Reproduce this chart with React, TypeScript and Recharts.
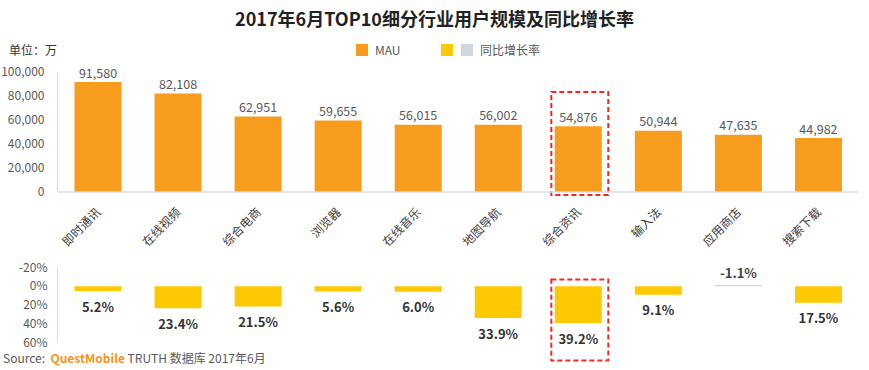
import React from 'react';
import { BarChart, Bar, XAxis, YAxis, LabelList, Cell, ReferenceArea } from 'recharts';

const categories = ['即时通讯', '在线视频', '综合电商', '浏览器', '在线音乐', '地图导航', '综合资讯', '输入法', '应用商店', '搜索下载'];
const mauValues = [91580, 82108, 62951, 59655, 56015, 56002, 54876, 50944, 47635, 44982];
const growthValues = [5.2, 23.4, 21.5, 5.6, 6.0, 33.9, 39.2, 9.1, -1.1, 17.5];
const mauTicks = [0, 20000, 40000, 60000, 80000, 100000];
const growthTicks = [-20, 0, 20, 40, 60];
const highlighted = '综合资讯';

const mauMinorTicks = Array.from({ length: 51 }, (_, i) => i * 2000);
const growthMinorTicks = Array.from({ length: 33 }, (_, i) => -20 + i * 2.5);

const data = categories.map((name, i) => ({ name, mau: mauValues[i], growth: growthValues[i] }));

const FONT = '"Noto Sans CJK SC", "Noto Sans", sans-serif';
const ORANGE = '#F89C1E';
const YELLOW = '#FFC900';
const GRAY = '#D0D5DE';

const XTick = (props: any) => {
  const { x, y, payload } = props;
  return (
    <g transform={`translate(${x + 4},${y + 19})`}>
      <text x={0} y={0} textAnchor="end" transform="rotate(-45)" fontSize={12} fill="#404040" fontFamily={FONT}>
        {payload.value}
      </text>
    </g>
  );
};

const getBox = (props: any) => {
  const vb = props.viewBox && props.viewBox.width !== undefined ? props.viewBox : props;
  const x = Number(vb.x), y = Number(vb.y), w = Number(vb.width), h = Number(vb.height);
  return { x, w, top: Math.min(y, y + h), bottom: Math.max(y, y + h) };
};

const MauLabel = (props: any) => {
  const { x, w, top } = getBox(props);
  return (
    <text x={x + w / 2} y={top - 10} textAnchor="middle" dominantBaseline="central" fontSize={12.5} fill="#595959" fontFamily={FONT}>
      {Number(props.value).toLocaleString('en-US')}
    </text>
  );
};

const GrowthLabel = (props: any) => {
  const { x, w, top, bottom } = getBox(props);
  const v = Number(props.value);
  const ty = v >= 0 ? bottom + 15 : top - 13;
  return (
    <text x={x + w / 2} y={ty} textAnchor="middle" dominantBaseline="central" fontSize={13} fontWeight="bold" fill={v >= 0 ? '#333' : '#444'} fontFamily={FONT}>
      {v.toFixed(1)}%
    </text>
  );
};

const DashBox = (props: any) => {
  const x = Math.min(props.x, props.x + props.width);
  const y = Math.min(props.y, props.y + props.height);
  const h = Math.abs(props.height);
  return <rect x={x + 13.5} y={y} width={57} height={h} fill="none" stroke="#F22" strokeWidth={2} strokeDasharray="5 3" />;
};

export default function App() {
  return (
    <div style={{ position: 'absolute', left: 0, top: 0, width: 869, height: 370, background: '#fff', fontFamily: FONT, overflow: 'hidden' }}>
      <div style={{ position: 'absolute', left: 0, top: 0 }}>
        <BarChart width={869} height={250} data={data} margin={{ top: 72, right: 11, left: 0, bottom: 0 }}>
          <YAxis yAxisId="minor" orientation="left" mirror width={0} type="number" domain={[0, 100000]} ticks={mauMinorTicks} interval={0} tick={false} tickSize={4} axisLine={{ stroke: '#DCDCDC' }} tickLine={{ stroke: '#E3E3E3' }} allowDataOverflow />
          <YAxis type="number" domain={[0, 100000]} ticks={mauTicks} interval={0} width={57.5} axisLine={{ stroke: '#DCDCDC' }} tickLine={false} tickSize={0} tickMargin={13} tickFormatter={(v: number) => v.toLocaleString('en-US')} tick={{ fontSize: 12, fill: '#595959', fontFamily: FONT }} />
          <XAxis dataKey="name" interval={0} height={58} tickLine={false} tickSize={0} axisLine={{ stroke: '#D8E0EC', strokeWidth: 1.5 }} tick={<XTick />} />
          <Bar dataKey="mau" fill={ORANGE} barSize={47} isAnimationActive={false}>
            <LabelList dataKey="mau" content={<MauLabel />} />
          </Bar>
          <ReferenceArea x1={highlighted} x2={highlighted} y1={-2500} y2={83400} ifOverflow="visible" shape={<DashBox />} />
        </BarChart>
      </div>
      <div style={{ position: 'absolute', left: 0, top: 250 }}>
        <BarChart width={869} height={120} data={data} margin={{ top: 17.3, right: 11, left: 0, bottom: 27.3 }}>
          <YAxis yAxisId="minor" orientation="left" mirror width={0} type="number" reversed domain={[-20, 60]} ticks={growthMinorTicks} interval={0} tick={false} tickSize={4} axisLine={{ stroke: '#DCDCDC' }} tickLine={{ stroke: '#E3E3E3' }} allowDataOverflow />
          <YAxis type="number" reversed domain={[-20, 60]} ticks={growthTicks} interval={0} width={57.5} axisLine={{ stroke: '#DCDCDC' }} tickLine={false} tickSize={0} tickMargin={10} tickFormatter={(v: number) => `${v}%`} tick={{ fontSize: 12, fill: '#595959', fontFamily: FONT }} />
          <XAxis dataKey="name" hide />
          <Bar dataKey="growth" barSize={47} isAnimationActive={false}>
            {data.map((d, i) => (
              <Cell key={i} fill={d.growth >= 0 ? YELLOW : GRAY} />
            ))}
            <LabelList dataKey="growth" content={<GrowthLabel />} />
          </Bar>
          <ReferenceArea x1={highlighted} x2={highlighted} y1={-7} y2={79} ifOverflow="visible" shape={<DashBox />} />
        </BarChart>
      </div>

      <div style={{ position: 'absolute', left: 0, top: 0, width: 869, height: 36, lineHeight: '36px', textAlign: 'center', fontSize: 18, fontWeight: 'bold', color: '#222' }}>
        2017年6月TOP10细分行业用户规模及同比增长率
      </div>
      <div style={{ position: 'absolute', left: 9, top: 42, lineHeight: '16px', fontSize: 12, color: '#333' }}>单位：万</div>
      <div style={{ position: 'absolute', left: 356, top: 44, width: 12, height: 12, background: ORANGE }} />
      <div style={{ position: 'absolute', left: 375, top: 42, lineHeight: '16px', fontSize: 12, color: '#595959' }}>MAU</div>
      <div style={{ position: 'absolute', left: 441, top: 44, width: 12, height: 12, background: YELLOW }} />
      <div style={{ position: 'absolute', left: 461, top: 44, width: 12, height: 12, background: GRAY }} />
      <div style={{ position: 'absolute', left: 480, top: 42, lineHeight: '16px', fontSize: 12, color: '#595959' }}>同比增长率</div>
      <div style={{ position: 'absolute', left: 3, top: 352, lineHeight: '12px', fontSize: 12, color: '#595959', whiteSpace: 'nowrap' }}>
        Source:&nbsp;&nbsp;<span style={{ color: '#F7941D', fontWeight: 'bold' }}>QuestMobile</span> TRUTH 数据库 2017年6月
      </div>
    </div>
  );
}
